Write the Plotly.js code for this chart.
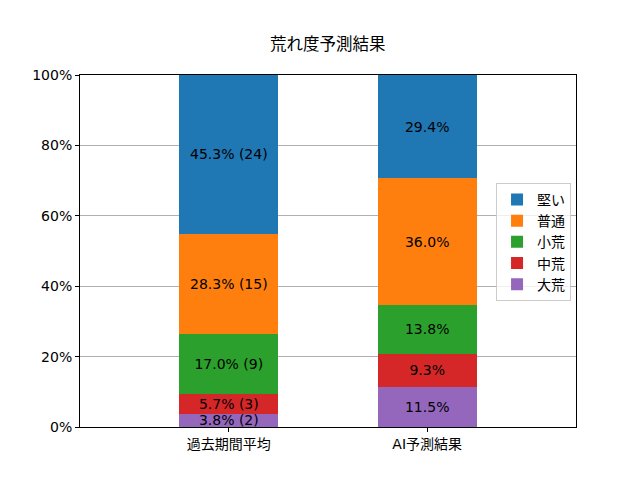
<!DOCTYPE html>
<html><head><meta charset="utf-8">
<script src="https://cdn.plot.ly/plotly-3.0.1.min.js"></script>
<style>html,body{margin:0;padding:0;background:#fff}#c{width:640px;height:480px}</style>
</head><body><div id="c"></div>
<script>
const categories = ["過去期間平均", "AI予測結果"];
const seriesNames = ["大荒", "中荒", "小荒", "普通", "堅い"];
const seriesColors = ["#9467bd", "#d62728", "#2ca02c", "#ff7f0e", "#1f77b4"];
const daiare = [3.8, 11.5];
const chuare = [5.7, 9.3];
const shoare = [17.0, 13.8];
const futsu = [28.3, 36.0];
const katai = [45.3, 29.4];
const daiareCount = [2, null];
const chuareCount = [3, null];
const shoareCount = [9, null];
const futsuCount = [15, null];
const kataiCount = [24, null];
const yTicks = [0, 20, 40, 60, 80, 100];

const values = [daiare, chuare, shoare, futsu, katai];
const counts = [daiareCount, chuareCount, shoareCount, futsuCount, kataiCount];
const font = "DejaVu Sans, Noto Sans CJK JP, sans-serif";

const traces = seriesNames.map((name, i) => ({
  type: "bar",
  name: name,
  x: [0, 1],
  y: values[i],
  width: 0.5,
  marker: {color: seriesColors[i], line: {width: 0}},
  text: values[i].map((v, j) => v.toFixed(1) + "%" + (counts[i][j] != null ? " (" + counts[i][j] + ")" : "")),
  textposition: "inside",
  insidetextanchor: "middle",
  textangle: 0,
  constraintext: "none",
  textfont: {color: "#000", size: 14, family: font},
  hoverinfo: "skip"
}));

const layout = {
  width: 640, height: 480,
  margin: {l: 80, r: 64, t: 75, b: 53},
  paper_bgcolor: "#fff", plot_bgcolor: "#fff",
  barmode: "stack",
  font: {family: font, size: 14, color: "#000"},
  title: {text: "荒れ度予測結果", font: {size: 16.5, family: font, color: "#000"}, x: 0.512, xanchor: "center", y: 1 - 44/480, yanchor: "middle"},
  xaxis: {
    range: [-0.75, 1.75], tickvals: [0, 1], ticktext: categories,
    showline: true, mirror: true, linecolor: "#000", linewidth: 1,
    ticks: "outside", ticklen: 4, tickcolor: "#000", showgrid: false, zeroline: false,
    tickfont: {size: 14, family: font}
  },
  yaxis: {
    range: [0, 100], tickvals: yTicks, ticktext: yTicks.map(t => t + "%"),
    showline: true, mirror: true, linecolor: "#000", linewidth: 1,
    ticks: "outside", ticklen: 4, tickcolor: "#000",
    showgrid: true, gridcolor: "#b0b0b0", gridwidth: 1, zeroline: false,
    tickfont: {size: 14, family: font}
  },
  legend: {
    x: 0.99, xanchor: "right", y: 0.526, yanchor: "middle",
    traceorder: "reversed", bgcolor: "rgba(255,255,255,0.8)",
    bordercolor: "#cccccc", borderwidth: 1, font: {size: 14, family: font}
  },
  showlegend: true
};

Plotly.newPlot("c", traces, layout, {staticPlot: true});
</script></body></html>
